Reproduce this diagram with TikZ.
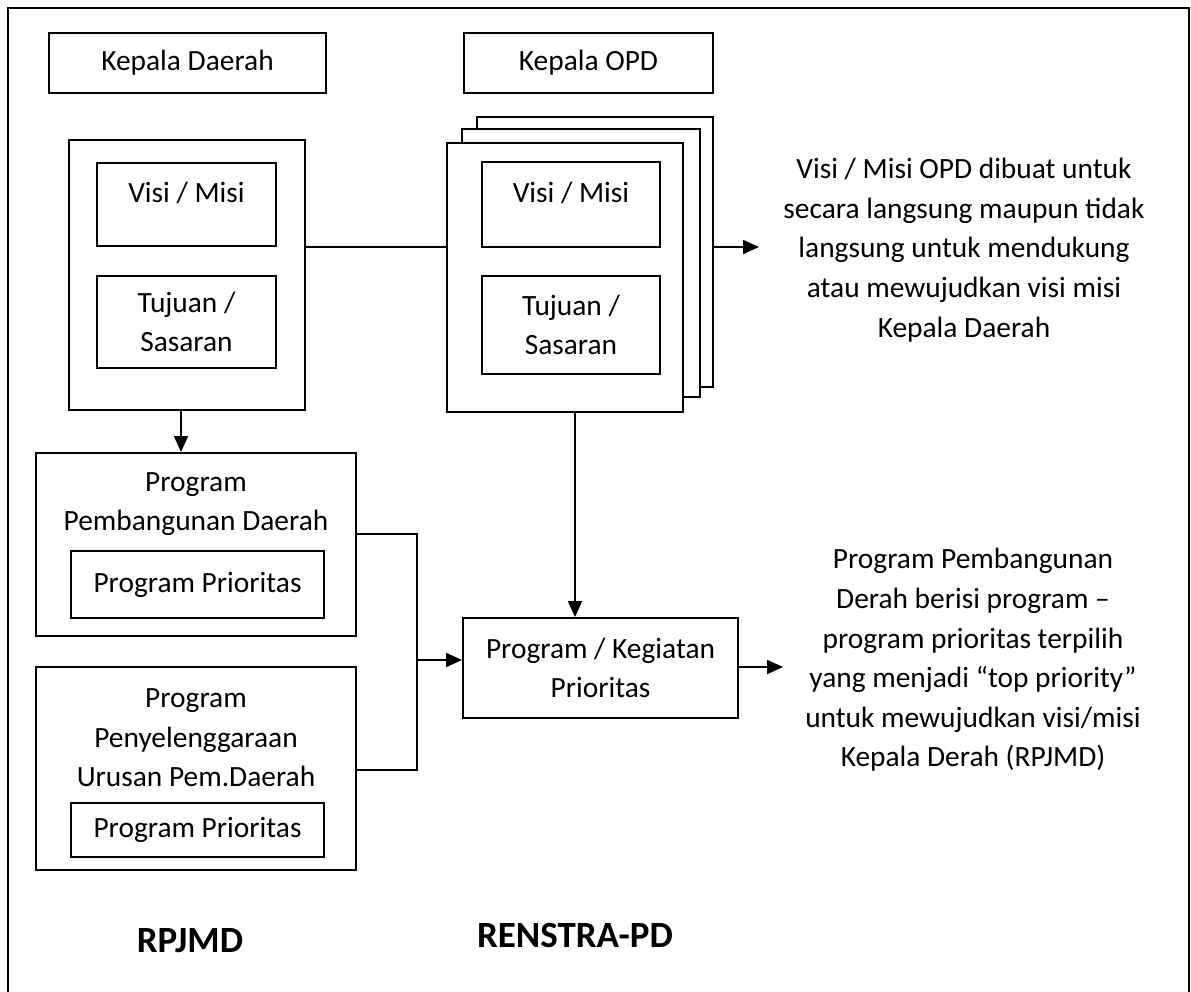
\documentclass[tikz,border=0pt]{standalone}
\usepackage{fontspec}
\setmainfont{Carlito}
\usetikzlibrary{arrows.meta,calc}
\begin{document}
\begin{tikzpicture}[x=0.5pt,y=-0.5pt,
 font=\fontsize{14.7}{19.8}\selectfont,
 box/.style={draw,line width=1pt,inner sep=0pt,align=center,fill=white},
 txt/.style={inner sep=0pt,align=center},
 arr/.style={line width=1pt,-{Triangle[length=8pt,width=7pt]}},
 ln/.style={line width=1pt}]
\useasboundingbox (0,0) rectangle (1191,992);
\begin{scope}
\clip (0,0) rectangle (1191,992);
\draw[ln] (8,1010) -- (8,8) -- (1189,8) -- (1189,1010);
\end{scope}
% top heads
\node[box,minimum width=138.5pt,minimum height=30pt] (kd) at (187.5,63) {Kepala Daerah};
\node[box,minimum width=124.5pt,minimum height=30pt] (kopd) at (588.5,63) {Kepala OPD};
% left vision box
\node[box,minimum width=118pt,minimum height=135pt] (vmL) at (187,275) {};
\node[box,minimum width=89.5pt,minimum height=41.5pt] (visiL) at (186.5,204.5) {};
\node[txt] (visiLt) at (186.5,193) {Visi / Misi};
\node[box,minimum width=89.5pt,minimum height=46pt] (tujL) at (186.5,322) {Tujuan /\\Sasaran};
% right stacked boxes
\node[box,minimum width=118pt,minimum height=135pt] (back) at (595,252) {};
\node[box,minimum width=119pt,minimum height=134pt] (mid) at (581,263) {};
\node[box,minimum width=118pt,minimum height=134.5pt] (front) at (565,277.5) {};
\node[box,minimum width=89pt,minimum height=42.5pt] (visiR) at (571,204.5) {};
\node[txt] (visiRt) at (571,193) {Visi / Misi};
\node[box,minimum width=89pt,minimum height=49pt] (tujR) at (571,325) {Tujuan /\\Sasaran};
% description 1
\node[txt] (d1) at (964,250) {Visi / Misi OPD dibuat untuk\\secara langsung maupun tidak\\langsung untuk mendukung\\atau mewujudkan visi misi\\Kepala Daerah};
% program boxes
\node[box,minimum width=160pt,minimum height=91.5pt] (ppd) at (196,544.5) {};
\node[txt] (ppdt) at (196,504) {Program\\Pembangunan Daerah};
\node[box,minimum width=126.5pt,minimum height=33.5pt] (pp1) at (197.5,584.5) {Program Prioritas};
\node[box,minimum width=160pt,minimum height=101.5pt] (ppu) at (196,768.5) {};
\node[txt] (pput) at (196,738) {Program\\Penyelenggaraan\\Urusan Pem.Daerah};
\node[box,minimum width=126.5pt,minimum height=27pt] (pp2) at (197.5,830) {Program Prioritas};
\node[box,minimum width=137.5pt,minimum height=50pt] (pk) at (600.5,668) {Program / Kegiatan\\Prioritas};
% description 2
\node[txt] (d2) at (973,660) {Program Pembangunan\\Derah berisi program –\\program prioritas terpilih\\yang menjadi “top priority”\\untuk mewujudkan visi/misi\\Kepala Derah (RPJMD)};
% bottom labels
\node[txt,font=\fontsize{18.5}{22}\selectfont\bfseries] (rp) at (190,941) {RPJMD};
\node[txt,font=\fontsize{18.5}{22}\selectfont\bfseries] (rs) at (575,935) {RENSTRA-PD};
% connectors
\draw[ln] (vmL.east |- visiL.south) -- (front.west |- visiL.south);
\coordinate (e1) at (759,247);
\draw[arr] (back.east |- e1) -- (e1);
\coordinate (a1) at (181,0);
\draw[arr] (vmL.south -| a1) -- (ppd.north -| a1);
\coordinate (a2) at (575,0);
\draw[arr] (front.south -| a2) -- (pk.north -| a2);
\coordinate (j1) at (417,534);
\coordinate (j2) at (417,770);
\draw[ln] (ppd.east |- j1) -- (j1) -- (j2) -- (ppu.east |- j2);
\coordinate (j3) at (417,660);
\draw[arr] (j3) -- (pk.west |- j3);
\coordinate (e2) at (783,667);
\draw[arr] (pk.east |- e2) -- (e2);
\end{tikzpicture}
\end{document}
